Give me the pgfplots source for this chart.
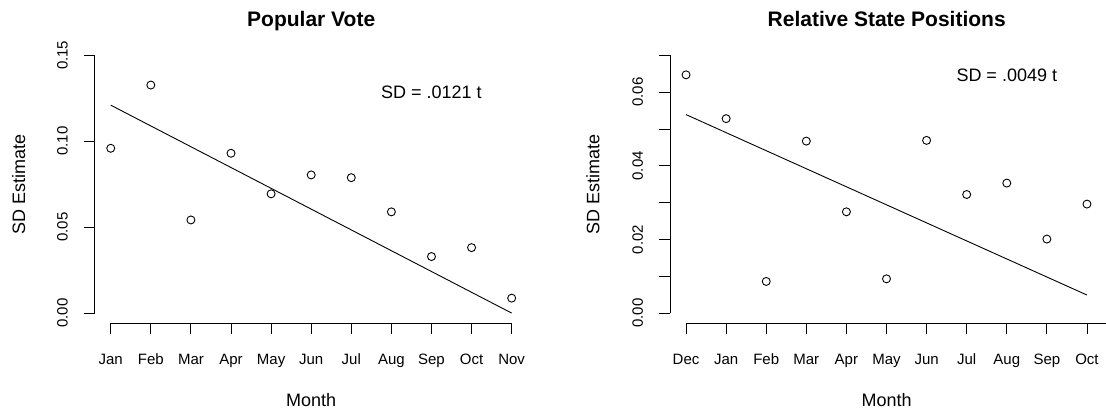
\documentclass[border=0pt]{standalone}
\usepackage{fontspec}
\setmainfont{Liberation Sans}
\usepackage{pgfplots}
\pgfplotsset{compat=1.18}
\pgfplotsset{rstyle/.style={
  scale only axis, width=433pt, height=278.4pt,
  axis lines*=left, axis line style={draw=none},
  tick align=outside, major tick length=10.8pt,
  tick style={black, line width=0.9pt},
  xmin=-0.4, xmax=10.4, xtick={0,...,10},
  scaled y ticks=false,
  clip=false,
  ticklabel style={font=\fontsize{15}{18}\selectfont},
  xticklabel style={anchor=base, yshift=-29.8pt},
  yticklabel style={xshift=-16.3pt, rotate=90, anchor=base},
}}
\begin{document}
\begin{tikzpicture}
\useasboundingbox (0,0) rectangle (1106pt,410pt);
% Left panel
\begin{axis}[rstyle, at={(94.7pt,86.6pt)}, anchor=south west,
  ymin=-0.006, ymax=0.156,
  ytick={0,0.05,0.10,0.15}, yticklabels={0.00,0.05,0.10,0.15},
  xticklabels={Jan,Feb,Mar,Apr,May,Jun,Jul,Aug,Sep,Oct,Nov}]
\draw[line width=0.9pt] (axis cs:0,-0.006) -- (axis cs:10,-0.006);
\draw[line width=0.9pt] (axis cs:-0.4,0) -- (axis cs:-0.4,0.15);
\addplot[only marks, mark=o, mark size=4pt, mark options={line width=0.9pt}] coordinates {
(0,0.0959) (1,0.1327) (2,0.0542) (3,0.0930) (4,0.0694) (5,0.0804)
(6,0.0788) (7,0.0589) (8,0.0329) (9,0.0381) (10,0.0087)};
\addplot[no marks, line width=0.9pt] coordinates {(0,0.121) (10,0)};
\node[anchor=base, font=\fontsize{18}{21}\selectfont] at (axis cs:8,0.1247) {SD = .0121 t};
\end{axis}
% Right panel
\begin{axis}[rstyle, at={(670pt,86.6pt)}, anchor=south west,
  ymin=-0.0028, ymax=0.0728,
  ytick={0,0.01,0.02,0.03,0.04,0.05,0.06,0.07}, yticklabels={0.00,,0.02,,0.04,,0.06,},
  xticklabels={Dec,Jan,Feb,Mar,Apr,May,Jun,Jul,Aug,Sep,Oct}]
\draw[line width=0.9pt] (axis cs:0,-0.0028) -- (axis cs:10.5,-0.0028);
\draw[line width=0.9pt] (axis cs:-0.4,0) -- (axis cs:-0.4,0.07);
\addplot[only marks, mark=o, mark size=4pt, mark options={line width=0.9pt}] coordinates {
(0,0.0647) (1,0.0528) (2,0.0086) (3,0.0467) (4,0.0275) (5,0.0093)
(6,0.0469) (7,0.0322) (8,0.0353) (9,0.0201) (10,0.0296)};
\addplot[no marks, line width=0.9pt] coordinates {(0,0.0539) (10,0.0049)};
\node[anchor=base, font=\fontsize{18}{21}\selectfont] at (axis cs:8,0.0629) {SD = .0049 t};
\end{axis}
% Titles and axis labels
\node[anchor=base, font=\fontsize{21}{25}\selectfont\bfseries] at (311.2pt,383.2pt) {Popular Vote};
\node[anchor=base, font=\fontsize{21}{25}\selectfont\bfseries] at (886.7pt,383.2pt) {Relative State Positions};
\node[anchor=base, font=\fontsize{18}{21}\selectfont] at (311.2pt,3.6pt) {Month};
\node[anchor=base, font=\fontsize{18}{21}\selectfont] at (886.7pt,3.6pt) {Month};
\node[anchor=base, rotate=90, font=\fontsize{18}{21}\selectfont] at (25.2pt,226pt) {SD Estimate};
\node[anchor=base, rotate=90, font=\fontsize{18}{21}\selectfont] at (599.4pt,226pt) {SD Estimate};
\end{tikzpicture}
\end{document}
